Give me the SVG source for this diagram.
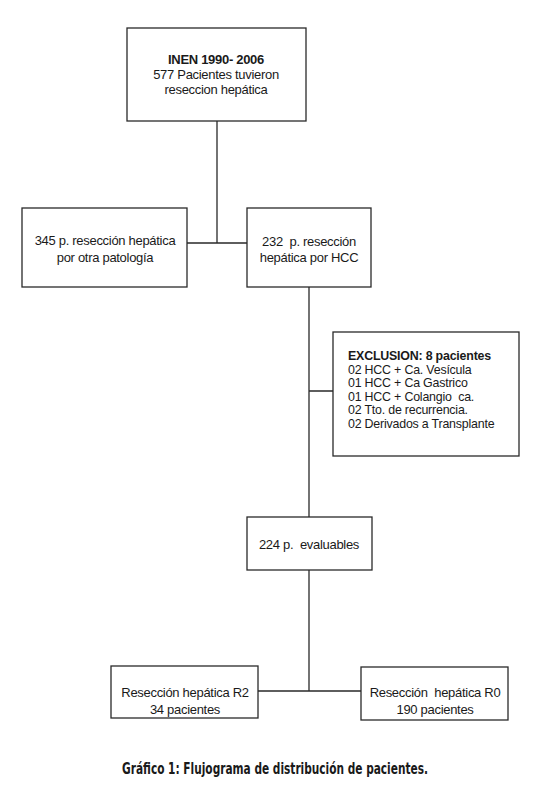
<svg xmlns="http://www.w3.org/2000/svg" width="547" height="800" viewBox="0 0 547 800">
<style>
.box{fill:#fff;stroke:#2a2a2a;stroke-width:1.3}
.ln{fill:none;stroke:#2a2a2a;stroke-width:1.3}
text{font-family:"Liberation Sans",Arial,sans-serif;font-size:13px;fill:#1a1a1a;letter-spacing:-0.3px;white-space:pre}
.c{text-anchor:middle}
.b{font-weight:bold}
.ex{font-size:12.4px;letter-spacing:-0.2px}
.cap{font-family:"DejaVu Sans Condensed","Liberation Sans",sans-serif;font-weight:bold;font-size:15px;text-anchor:middle;letter-spacing:0}
</style>
<rect width="547" height="800" fill="#fff"/>
<g id="connectors">
<path class="ln" d="M217 121V243M187 243H247"/>
<path class="ln" d="M309 287V517M309 391H333"/>
<path class="ln" d="M309 570V691M258 691H361"/>
</g>
<g id="n1">
<rect class="box" x="127" y="28" width="179" height="93"/>
<text class="c b" x="216" y="64">INEN 1990- 2006</text>
<text class="c" x="216" y="79">577 Pacientes tuvieron</text>
<text class="c" x="216" y="94">reseccion hepática</text>
</g>
<g id="n2">
<rect class="box" x="22" y="208" width="165" height="79"/>
<text class="c" x="105" y="245">345 p. resección hepática</text>
<text class="c" x="105" y="262">por otra patología</text>
</g>
<g id="n3">
<rect class="box" x="247" y="208" width="124" height="79"/>
<text class="c" x="309" y="246">232  p. resección</text>
<text class="c" x="309" y="262">hepática por HCC</text>
</g>
<g id="n4">
<rect class="box" x="333" y="332" width="186" height="124"/>
<text class="ex b" x="348" y="360">EXCLUSION: 8 pacientes</text>
<text class="ex" x="348" y="373.5">02 HCC + Ca. Vesícula</text>
<text class="ex" x="348" y="387">01 HCC + Ca Gastrico</text>
<text class="ex" x="348" y="400.5">01 HCC + Colangio  ca.</text>
<text class="ex" x="348" y="414">02 Tto. de recurrencia.</text>
<text class="ex" x="348" y="427.5">02 Derivados a Transplante</text>
</g>
<g id="n5">
<rect class="box" x="247" y="517" width="125" height="53"/>
<text class="c" x="309" y="549">224 p.  evaluables</text>
</g>
<g id="n6">
<rect class="box" x="111" y="666" width="147" height="52"/>
<text class="c" x="185" y="697">Resección hepática R2</text>
<text class="c" x="185" y="714">34 pacientes</text>
</g>
<g id="n7">
<rect class="box" x="361" y="667" width="147" height="53"/>
<text class="c" x="435" y="697">Resección  hepática R0</text>
<text class="c" x="435" y="714">190 pacientes</text>
</g>
<text class="cap" x="275" y="774" textLength="306" lengthAdjust="spacingAndGlyphs">Gráfico 1: Flujograma de distribución de pacientes.</text>
</svg>
